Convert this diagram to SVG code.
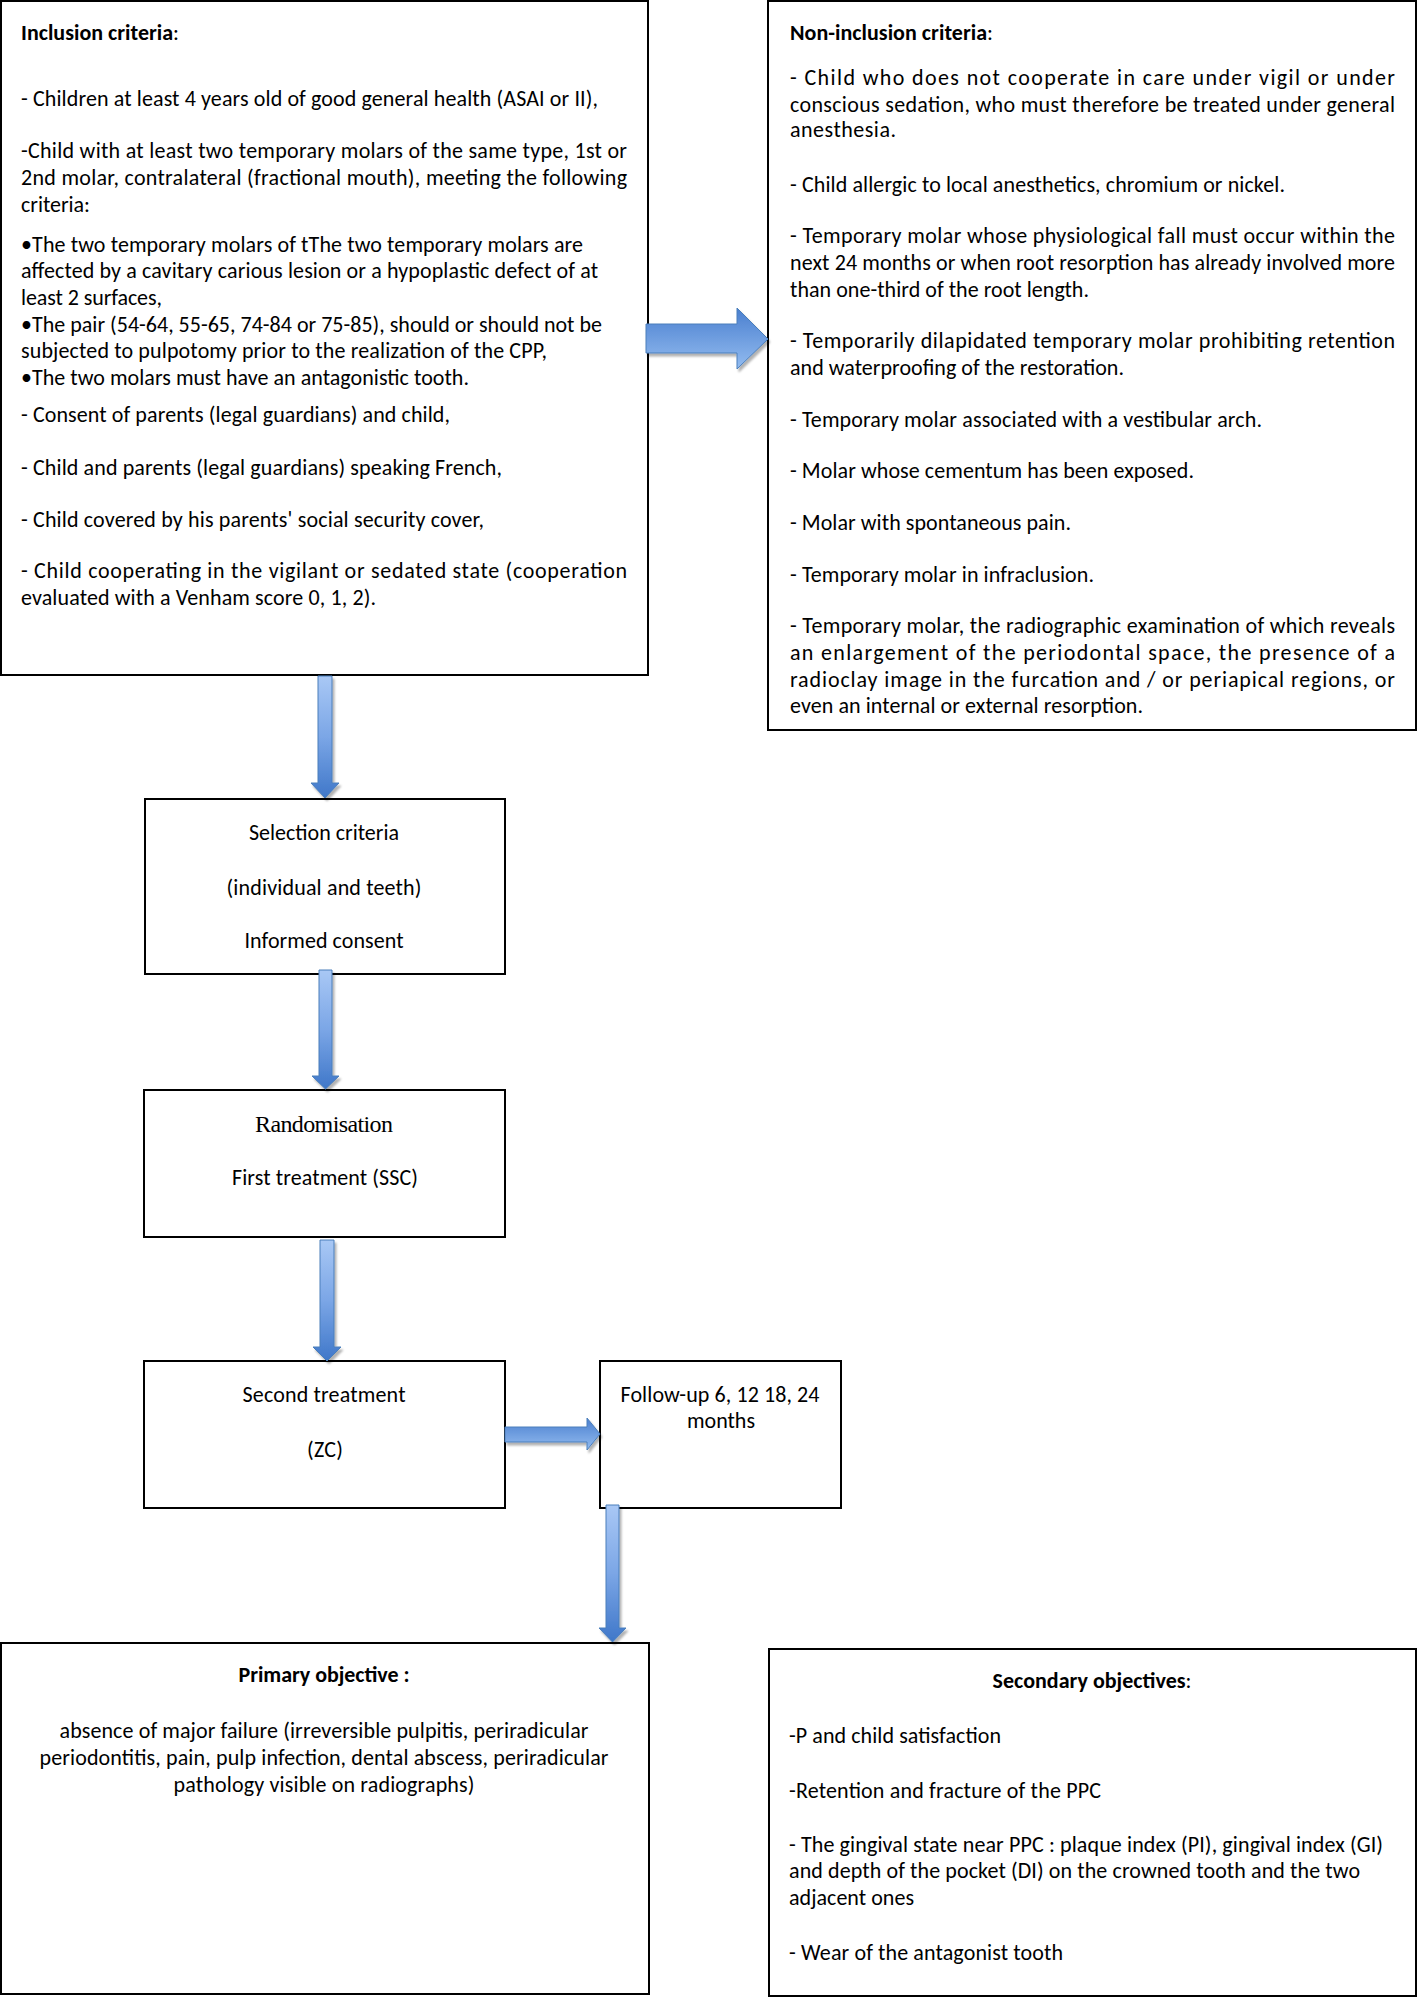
<svg xmlns="http://www.w3.org/2000/svg" width="1418" height="1998" viewBox="0 0 1418 1998">
<style>
.t{font-family:Carlito,Lato,"Liberation Sans",sans-serif;font-size:22px;fill:#000}
.b{font-weight:bold}
.c{text-anchor:middle}
.s{font-family:"Liberation Serif","DejaVu Serif",serif;font-size:24px}
.box{fill:#fff;stroke:#000;stroke-width:2}
.ad{fill:url(#gd);stroke:#4a7ebb;stroke-width:1;filter:url(#sh)}
.ar{fill:url(#gr);stroke:#4a7ebb;stroke-width:1;filter:url(#sh)}
</style>
<defs>
<linearGradient id="gd" x1="0" y1="0" x2="0" y2="1">
<stop offset="0" stop-color="#a9c8f5"/>
<stop offset="0.5" stop-color="#7ba6e6"/>
<stop offset="1" stop-color="#3f77c9"/>
</linearGradient>
<linearGradient id="gr" x1="0" y1="0" x2="0" y2="1">
<stop offset="0" stop-color="#4a7fcf"/>
<stop offset="1" stop-color="#93bcf0"/>
</linearGradient>
<filter id="sh" x="-20%" y="-20%" width="150%" height="150%">
<feDropShadow dx="2" dy="3" stdDeviation="1.2" flood-color="#000" flood-opacity="0.3"/>
</filter>
</defs>
<rect width="1418" height="1998" fill="#fff"/>

<g id="inclusion">
<rect class="box" x="1" y="1" width="647" height="674"/>
<text class="t" x="21" y="40" textLength="158" lengthAdjust="spacing"><tspan class="b">Inclusion criteria</tspan>:</text>
<text class="t" x="21" y="106" textLength="577" lengthAdjust="spacing">- Children at least 4 years old of good general health (ASAI or II),</text>
<text class="t" x="21" y="158" textLength="606" lengthAdjust="spacing">-Child with at least two temporary molars of the same type, 1st or</text>
<text class="t" x="21" y="185" textLength="606" lengthAdjust="spacing">2nd molar, contralateral (fractional mouth), meeting the following</text>
<text class="t" x="21" y="212" textLength="69" lengthAdjust="spacing">criteria:</text>
<text class="t" x="21" y="252" textLength="562" lengthAdjust="spacing">•The two temporary molars of tThe two temporary molars are</text>
<text class="t" x="21" y="278" textLength="577" lengthAdjust="spacing">affected by a cavitary carious lesion or a hypoplastic defect of at</text>
<text class="t" x="21" y="305" textLength="141" lengthAdjust="spacing">least 2 surfaces,</text>
<text class="t" x="21" y="332" textLength="581" lengthAdjust="spacing">•The pair (54-64, 55-65, 74-84 or 75-85), should or should not be</text>
<text class="t" x="21" y="358" textLength="526" lengthAdjust="spacing">subjected to pulpotomy prior to the realization of the CPP,</text>
<text class="t" x="21" y="385" textLength="448" lengthAdjust="spacing">•The two molars must have an antagonistic tooth.</text>
<text class="t" x="21" y="422" textLength="429" lengthAdjust="spacing">- Consent of parents (legal guardians) and child,</text>
<text class="t" x="21" y="475" textLength="481" lengthAdjust="spacing">- Child and parents (legal guardians) speaking French,</text>
<text class="t" x="21" y="527" textLength="463" lengthAdjust="spacing">- Child covered by his parents' social security cover,</text>
<text class="t" x="21" y="578" textLength="606" lengthAdjust="spacing">- Child cooperating in the vigilant or sedated state (cooperation</text>
<text class="t" x="21" y="605" textLength="355" lengthAdjust="spacing">evaluated with a Venham score 0, 1, 2).</text>
</g>

<g id="non-inclusion">
<rect class="box" x="768" y="1" width="648" height="729"/>
<text class="t" x="790" y="40" textLength="203" lengthAdjust="spacing"><tspan class="b">Non-inclusion criteria</tspan>:</text>
<text class="t" x="790" y="85" textLength="605" lengthAdjust="spacing">- Child who does not cooperate in care under vigil or under</text>
<text class="t" x="790" y="112" textLength="605" lengthAdjust="spacing">conscious sedation, who must therefore be treated under general</text>
<text class="t" x="790" y="137" textLength="106" lengthAdjust="spacing">anesthesia.</text>
<text class="t" x="790" y="192" textLength="495" lengthAdjust="spacing">- Child allergic to local anesthetics, chromium or nickel.</text>
<text class="t" x="790" y="243" textLength="605" lengthAdjust="spacing">- Temporary molar whose physiological fall must occur within the</text>
<text class="t" x="790" y="270" textLength="605" lengthAdjust="spacing">next 24 months or when root resorption has already involved more</text>
<text class="t" x="790" y="297" textLength="299" lengthAdjust="spacing">than one-third of the root length.</text>
<text class="t" x="790" y="348" textLength="605" lengthAdjust="spacing">- Temporarily dilapidated temporary molar prohibiting retention</text>
<text class="t" x="790" y="375" textLength="334" lengthAdjust="spacing">and waterproofing of the restoration.</text>
<text class="t" x="790" y="427" textLength="472" lengthAdjust="spacing">- Temporary molar associated with a vestibular arch.</text>
<text class="t" x="790" y="478" textLength="404" lengthAdjust="spacing">- Molar whose cementum has been exposed.</text>
<text class="t" x="790" y="530" textLength="281" lengthAdjust="spacing">- Molar with spontaneous pain.</text>
<text class="t" x="790" y="582" textLength="304" lengthAdjust="spacing">- Temporary molar in infraclusion.</text>
<text class="t" x="790" y="633" textLength="605" lengthAdjust="spacing">- Temporary molar, the radiographic examination of which reveals</text>
<text class="t" x="790" y="660" textLength="605" lengthAdjust="spacing">an enlargement of the periodontal space, the presence of a</text>
<text class="t" x="790" y="687" textLength="605" lengthAdjust="spacing">radioclay image in the furcation and / or periapical regions, or</text>
<text class="t" x="790" y="713" textLength="353" lengthAdjust="spacing">even an internal or external resorption.</text>
</g>

<g id="selection">
<rect class="box" x="145" y="799" width="360" height="175"/>
<text class="t c" x="324" y="840" textLength="150" lengthAdjust="spacing">Selection criteria</text>
<text class="t c" x="324" y="895" textLength="195" lengthAdjust="spacing">(individual and teeth)</text>
<text class="t c" x="324" y="948" textLength="159" lengthAdjust="spacing">Informed consent</text>
</g>

<g id="randomisation">
<rect class="box" x="144" y="1090" width="361" height="147"/>
<text class="t s c" x="324" y="1132" textLength="138" lengthAdjust="spacing">Randomisation</text>
<text class="t c" x="325" y="1185" textLength="186" lengthAdjust="spacing">First treatment (SSC)</text>
</g>

<g id="second-treatment">
<rect class="box" x="144" y="1361" width="361" height="147"/>
<text class="t c" x="324" y="1402" textLength="163" lengthAdjust="spacing">Second treatment</text>
<text class="t c" x="325" y="1457" textLength="36" lengthAdjust="spacing">(ZC)</text>
</g>

<g id="follow-up">
<rect class="box" x="600" y="1361" width="241" height="147"/>
<text class="t c" x="720" y="1402" textLength="199" lengthAdjust="spacing">Follow-up 6, 12 18, 24</text>
<text class="t c" x="721" y="1428" textLength="68" lengthAdjust="spacing">months</text>
</g>

<g id="primary">
<rect class="box" x="1" y="1643" width="648" height="351"/>
<text class="t b c" x="324" y="1682" textLength="171" lengthAdjust="spacing">Primary objective :</text>
<text class="t c" x="324" y="1738" textLength="529" lengthAdjust="spacing">absence of major failure (irreversible pulpitis, periradicular</text>
<text class="t c" x="324" y="1765" textLength="569" lengthAdjust="spacing">periodontitis, pain, pulp infection, dental abscess, periradicular</text>
<text class="t c" x="324" y="1792" textLength="301" lengthAdjust="spacing">pathology visible on radiographs)</text>
</g>

<g id="secondary">
<rect class="box" x="769" y="1649" width="647" height="347"/>
<text class="t c" x="1092" y="1688" textLength="199" lengthAdjust="spacing"><tspan class="b">Secondary objectives</tspan>:</text>
<text class="t" x="789" y="1743" textLength="212" lengthAdjust="spacing">-P and child satisfaction</text>
<text class="t" x="789" y="1798" textLength="312" lengthAdjust="spacing">-Retention and fracture of the PPC</text>
<text class="t" x="789" y="1852" textLength="594" lengthAdjust="spacing">- The gingival state near PPC : plaque index (PI), gingival index (GI)</text>
<text class="t" x="789" y="1878" textLength="571" lengthAdjust="spacing">and depth of the pocket (DI) on the crowned tooth and the two</text>
<text class="t" x="789" y="1905" textLength="125" lengthAdjust="spacing">adjacent ones</text>
<text class="t" x="789" y="1960" textLength="274" lengthAdjust="spacing">- Wear of the antagonist tooth</text>
</g>

<g id="connectors">
<path class="ar" d="M646,324 L737,324 L737,308 L768,339 L737,369 L737,353 L646,353 Z"/>
<path class="ad" d="M318,676 L332,676 L332,783 L339,783 L325,798 L311,783 L318,783 Z"/>
<path class="ad" d="M319,970 L332,970 L332,1076 L339,1076 L325.5,1089 L312,1076 L319,1076 Z"/>
<path class="ad" d="M320,1240 L334,1240 L334,1347 L341,1347 L327,1361 L313,1347 L320,1347 Z"/>
<path class="ar" d="M505,1427 L587,1427 L587,1418 L600,1434 L587,1450 L587,1442 L505,1442 Z"/>
<path class="ad" d="M606,1505 L619,1505 L619,1628 L626,1628 L612.5,1642 L599,1628 L606,1628 Z"/>
</g>
</svg>
